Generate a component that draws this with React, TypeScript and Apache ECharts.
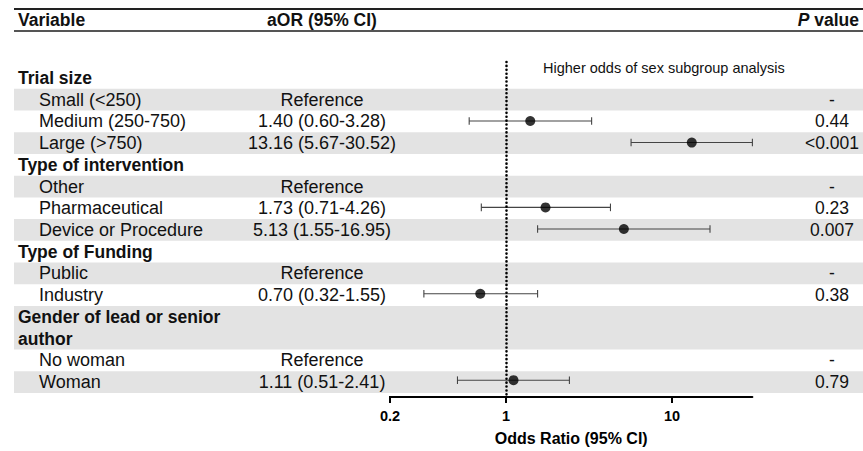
import React, { useEffect, useRef } from "react";
import * as echarts from "echarts";

// ---------- data ----------
const rowLabels = [
  "Trial size",
  "Small (<250)",
  "Medium (250-750)",
  "Large (>750)",
  "Type of intervention",
  "Other",
  "Pharmaceutical",
  "Device or Procedure",
  "Type of Funding",
  "Public",
  "Industry",
  "Gender of lead or senior\nauthor",
  "No woman",
  "Woman",
];
const rowIsHeader = [true, false, false, false, true, false, false, false, true, false, false, true, false, false];
const rowSpans = [1, 1, 1, 1, 1, 1, 1, 1, 1, 1, 1, 2, 1, 1];
const rowShaded = [false, true, false, true, false, true, false, true, false, true, false, true, false, true];
const aorLabels = [
  "", "Reference", "1.40 (0.60-3.28)", "13.16 (5.67-30.52)",
  "", "Reference", "1.73 (0.71-4.26)", "5.13 (1.55-16.95)",
  "", "Reference", "0.70 (0.32-1.55)",
  "", "Reference", "1.11 (0.51-2.41)",
];
const oddsRatios: (number | null)[] = [null, null, 1.4, 13.16, null, null, 1.73, 5.13, null, null, 0.7, null, null, 1.11];
const ciLower: (number | null)[] = [null, null, 0.6, 5.67, null, null, 0.71, 1.55, null, null, 0.32, null, null, 0.51];
const ciUpper: (number | null)[] = [null, null, 3.28, 30.52, null, null, 4.26, 16.95, null, null, 1.55, null, null, 2.41];
const pValueLabels = ["", "-", "0.44", "<0.001", "", "-", "0.23", "0.007", "", "-", "0.38", "", "-", "0.79"];
const axisTickValues = [0.2, 1, 10];
const axisMin = 0.2;
const axisMax = 30.52;
const referenceLine = 1;
const columnHeaders = ["Variable", "aOR (95% CI)", "P value"];
const annotation = "Higher odds of sex subgroup analysis";
const axisTitle = "Odds Ratio (95% CI)";

// ---------- layout ----------
const W = 863;
const H = 451;
const FONT = "'Liberation Sans', Arial, Helvetica, sans-serif";
const UNIT = 21.73;
const BAND_TOP = 67;
const PLOT_TOP = 62;
const PLOT_BOTTOM = 399;
const Y_MIN = (PLOT_TOP - BAND_TOP) / UNIT;
const Y_MAX = (PLOT_BOTTOM - BAND_TOP) / UNIT;
const TABLE_LEFT = 14;
const HEADER_X = 18;
const SUB_X = 39;
const AOR_X = 322;
const P_X = 832;
const FOREST_LEFT = 390;
const FOREST_RIGHT = 752.4;
const BAND_COLOR = "#e3e3e3";
const TEXT_COLOR = "#111";
const REG_SIZE = 18;
const BOLD_SIZE = 17.5;
const TICK_LEN = 6;

const rowStarts: number[] = [];
{
  let acc = 0;
  rowSpans.forEach((s) => {
    rowStarts.push(acc);
    acc += s;
  });
}
const rowCenter = (i: number) => rowStarts[i] + rowSpans[i] / 2;

export default function App() {
  const ref = useRef<HTMLDivElement>(null);

  useEffect(() => {
    if (!ref.current) return;
    const chart = echarts.init(ref.current, undefined, { renderer: "svg" });

    const forestIdx = oddsRatios
      .map((v, i) => (v == null ? -1 : i))
      .filter((i) => i >= 0);

    const option: any = {
      animation: false,
      backgroundColor: "#fff",
      grid: [
        { left: 0, right: 0, top: PLOT_TOP, height: PLOT_BOTTOM - PLOT_TOP },
        { left: FOREST_LEFT, right: W - FOREST_RIGHT, top: PLOT_TOP, height: PLOT_BOTTOM - PLOT_TOP },
      ],
      xAxis: [
        { gridIndex: 0, type: "value", min: 0, max: W, show: false },
        {
          gridIndex: 1,
          type: "log",
          logBase: 10,
          min: axisMin,
          max: axisMax,
          position: "bottom",
          axisLine: { show: true, onZero: false, lineStyle: { color: "#000", width: 2 } },
          axisTick: { show: false },
          axisLabel: {
            customValues: axisTickValues,
            fontWeight: "bold",
            fontSize: 14.5,
            fontFamily: FONT,
            color: "#000",
            margin: 11,
            formatter: (v: number) => String(+v.toPrecision(3)),
          },
          splitLine: { show: false },
          minorTick: { show: false },
          name: axisTitle,
          nameLocation: "middle",
          nameGap: 33,
          nameTextStyle: { fontWeight: "bold", fontSize: 16, fontFamily: FONT, color: "#000" },
        },
      ],
      yAxis: [
        { gridIndex: 0, type: "value", min: Y_MIN, max: Y_MAX, inverse: true, show: false },
        { gridIndex: 1, type: "value", min: Y_MIN, max: Y_MAX, inverse: true, show: false },
      ],
      series: [
        {
          type: "custom",
          name: "rows",
          xAxisIndex: 0,
          yAxisIndex: 0,
          z: 0,
          silent: true,
          data: rowLabels.map((_, i) => [TABLE_LEFT, rowStarts[i]]),
          renderItem: (params: any, api: any) => {
            const i = params.dataIndex;
            const top = api.coord([TABLE_LEFT, rowStarts[i]]);
            const bottom = api.coord([W, rowStarts[i] + rowSpans[i]]);
            const mid = api.coord([0, rowCenter(i)])[1];
            const children: any[] = [];
            if (rowShaded[i]) {
              children.push({
                type: "rect",
                shape: { x: top[0], y: top[1], width: bottom[0] - top[0], height: bottom[1] - top[1] },
                style: { fill: BAND_COLOR },
              });
            }
            children.push({
              type: "text",
              x: api.coord([rowIsHeader[i] ? HEADER_X : SUB_X, 0])[0],
              y: mid,
              style: {
                text: rowLabels[i],
                fill: TEXT_COLOR,
                fontSize: rowIsHeader[i] ? BOLD_SIZE : REG_SIZE,
                fontFamily: FONT,
                fontWeight: rowIsHeader[i] ? "bold" : "normal",
                align: "left",
                verticalAlign: "middle",
                lineHeight: UNIT,
              },
            });
            if (aorLabels[i]) {
              children.push({
                type: "text",
                x: api.coord([AOR_X, 0])[0],
                y: mid,
                style: {
                  text: aorLabels[i],
                  fill: TEXT_COLOR,
                  fontSize: REG_SIZE,
                  fontFamily: FONT,
                  align: "center",
                  verticalAlign: "middle",
                },
              });
            }
            if (pValueLabels[i]) {
              children.push({
                type: "text",
                x: api.coord([P_X, 0])[0],
                y: mid,
                style: {
                  text: pValueLabels[i],
                  fill: TEXT_COLOR,
                  fontSize: 17.5,
                  fontFamily: FONT,
                  align: "center",
                  verticalAlign: "middle",
                },
              });
            }
            return { type: "group", children };
          },
        },
        {
          type: "custom",
          name: "ticks",
          xAxisIndex: 1,
          yAxisIndex: 1,
          z: 4,
          silent: true,
          clip: false,
          encode: { x: 0, y: 1 },
          data: axisTickValues.map((v) => [v, Y_MAX]),
          renderItem: (params: any, api: any) => {
            const p = api.coord([api.value(0), api.value(1)]);
            return {
              type: "line",
              shape: { x1: p[0], y1: p[1] - 1, x2: p[0], y2: p[1] + TICK_LEN },
              style: { stroke: "#000", lineWidth: 2 },
            };
          },
        },
        {
          type: "custom",
          name: "ci",
          xAxisIndex: 1,
          yAxisIndex: 1,
          z: 2,
          silent: true,
          encode: { x: [0, 1], y: 2 },
          data: forestIdx.map((i) => [ciLower[i], ciUpper[i], rowCenter(i)]),
          renderItem: (params: any, api: any) => {
            const p1 = api.coord([api.value(0), api.value(2)]);
            const p2 = api.coord([api.value(1), api.value(2)]);
            const h = 3.8;
            const st = { stroke: "#444", lineWidth: 1.1 };
            return {
              type: "group",
              children: [
                { type: "line", shape: { x1: p1[0], y1: p1[1], x2: p2[0], y2: p2[1] }, style: st },
                { type: "line", shape: { x1: p1[0], y1: p1[1] - h, x2: p1[0], y2: p1[1] + h }, style: st },
                { type: "line", shape: { x1: p2[0], y1: p2[1] - h, x2: p2[0], y2: p2[1] + h }, style: st },
              ],
            };
          },
        },
        {
          type: "scatter",
          name: "aOR",
          xAxisIndex: 1,
          yAxisIndex: 1,
          z: 3,
          symbol: "circle",
          symbolSize: 10,
          itemStyle: { color: "#000" },
          data: forestIdx.map((i) => [oddsRatios[i], rowCenter(i)]),
          markLine: {
            silent: true,
            symbol: ["none", "none"],
            label: { show: false },
            lineStyle: { type: [0.01, 3.9], cap: "round", width: 2.6, color: "#000" },
            data: [{ xAxis: referenceLine }],
          },
        },
      ],
      graphic: [
        { type: "line", shape: { x1: TABLE_LEFT, y1: 9, x2: W, y2: 9 }, style: { stroke: "#222", lineWidth: 2 } },
        { type: "line", shape: { x1: TABLE_LEFT, y1: 31, x2: W, y2: 31 }, style: { stroke: "#555", lineWidth: 2 } },
        {
          type: "text",
          x: HEADER_X,
          y: 20,
          style: { text: columnHeaders[0], fill: TEXT_COLOR, fontSize: BOLD_SIZE, fontWeight: "bold", fontFamily: FONT, align: "left", verticalAlign: "middle" },
        },
        {
          type: "text",
          x: AOR_X,
          y: 20,
          style: { text: columnHeaders[1], fill: TEXT_COLOR, fontSize: BOLD_SIZE, fontWeight: "bold", fontFamily: FONT, align: "center", verticalAlign: "middle" },
        },
        {
          type: "text",
          x: 859,
          y: 20,
          style: {
            text: "{i|P}{b|" + columnHeaders[2].slice(1) + "}",
            align: "right",
            verticalAlign: "middle",
            rich: {
              i: { fontStyle: "italic", fontWeight: "bold", fontSize: BOLD_SIZE, fontFamily: FONT, fill: TEXT_COLOR },
              b: { fontWeight: "bold", fontSize: BOLD_SIZE, fontFamily: FONT, fill: TEXT_COLOR },
            },
          },
        },
        {
          type: "text",
          x: 543,
          y: 68,
          style: { text: annotation, fill: TEXT_COLOR, fontSize: 14.5, fontFamily: FONT, align: "left", verticalAlign: "middle" },
        },
      ],
    };

    chart.setOption(option);
    return () => chart.dispose();
  }, []);

  return <div ref={ref} style={{ position: "fixed", left: 0, top: 0, width: W, height: H }} />;
}
